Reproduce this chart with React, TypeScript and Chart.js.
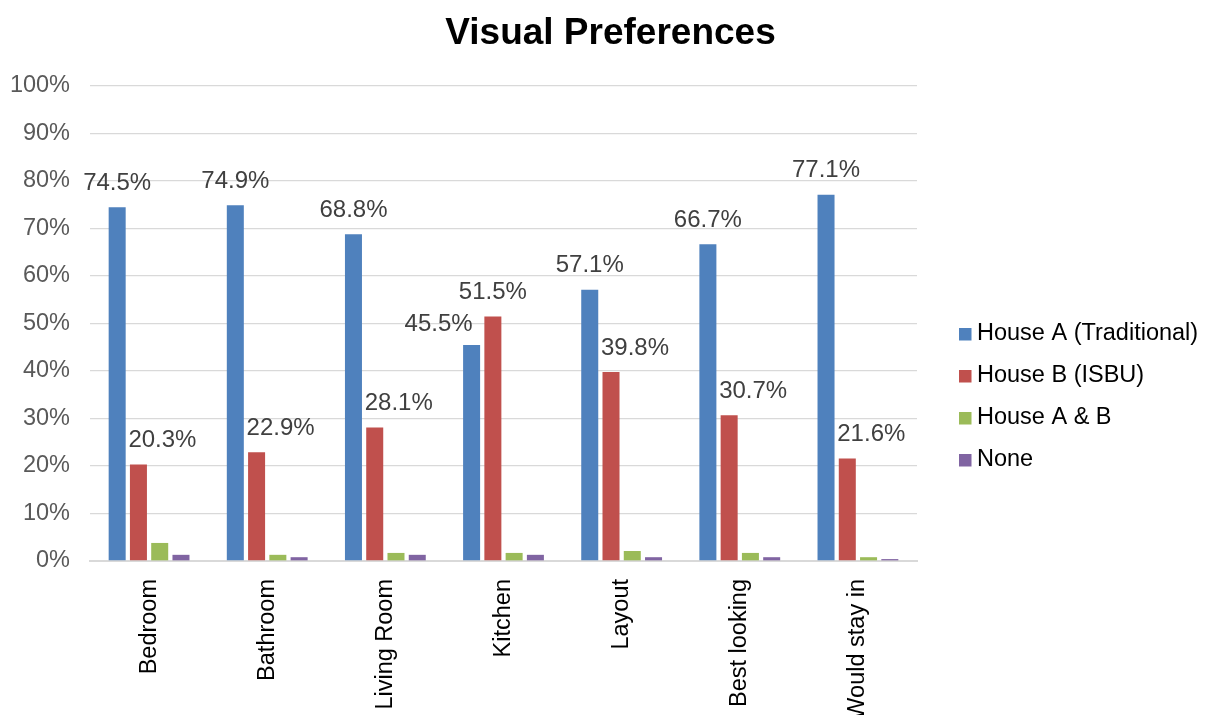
import React, { useEffect, useRef } from "react";
import { Chart, registerables } from "chart.js";

Chart.register(...registerables);

const FONT = '"Liberation Sans", Arial, sans-serif';

const categories = ["Bedroom", "Bathroom", "Living Room", "Kitchen", "Layout", "Best looking", "Would stay in"];
const houseA = [74.5, 74.9, 68.8, 45.5, 57.1, 66.7, 77.1];
const houseB = [20.3, 22.9, 28.1, 51.5, 39.8, 30.7, 21.6];
const houseAB = [3.8, 1.3, 1.7, 1.7, 2.1, 1.7, 0.8];
const noneOfThem = [1.3, 0.8, 1.3, 1.3, 0.8, 0.8, 0.4];
const seriesNames = ["House A (Traditional)", "House B (ISBU)", "House A & B", "None"];
const seriesColors = ["#4F81BD", "#C0504D", "#9BBB59", "#8064A2"];
const labelledSeries = [0, 1];
const yMin = 0;
const yMax = 100;
const yStep = 10;
const titleText = "Visual Preferences";

// label nudges (px) so value labels do not collide, as in the original
function labelNudge(di: number, i: number): [number, number] {
  if (di === 0) return i === 3 ? [-33, 21] : [0, 24];
  return i === 3 ? [0, 24] : [24, 24];
}

const valueLabels = {
  id: "valueLabels",
  afterDatasetsDraw(chart: any) {
    const ctx = chart.ctx;
    ctx.save();
    ctx.font = `24px ${FONT}`;
    ctx.fillStyle = "#404040";
    ctx.textAlign = "center";
    ctx.textBaseline = "middle";
    labelledSeries.forEach((di) => {
      const meta = chart.getDatasetMeta(di);
      meta.data.forEach((bar: any, i: number) => {
        const v = chart.data.datasets[di].data[i] as number;
        const [dx, dy] = labelNudge(di, i);
        ctx.fillText(v.toFixed(1) + "%", bar.x + dx, bar.y - dy);
      });
    });
    ctx.restore();
  },
};

const sideLegend = {
  id: "sideLegend",
  afterDraw(chart: any) {
    const { ctx, chartArea } = chart;
    const x = chartArea.right + 42;
    const firstY = chartArea.top + 248;
    const gap = 42;
    ctx.save();
    ctx.font = `23.5px ${FONT}`;
    ctx.textAlign = "left";
    ctx.textBaseline = "middle";
    chart.data.datasets.forEach((ds: any, i: number) => {
      const y = firstY + i * gap;
      ctx.fillStyle = ds.backgroundColor;
      ctx.fillRect(x, y - 6, 12.5, 12.5);
      ctx.fillStyle = "#000000";
      ctx.fillText(ds.label, x + 18, y);
    });
    ctx.restore();
  },
};

export default function App() {
  const ref = useRef<HTMLCanvasElement>(null);

  useEffect(() => {
    if (!ref.current) return;
    const seriesData = [houseA, houseB, houseAB, noneOfThem];
    const chart = new Chart(ref.current, {
      type: "bar",
      data: {
        labels: categories,
        datasets: seriesData.map((d, i) => ({
          label: seriesNames[i],
          data: d,
          backgroundColor: seriesColors[i],
          borderWidth: 0,
          categoryPercentage: 0.72,
          barPercentage: 0.8,
          yAxisID: "y",
        })),
      },
      options: {
        animation: false,
        responsive: false,
        maintainAspectRatio: false,
        layout: { padding: { left: 10, right: 0, top: 0, bottom: 0 } },
        plugins: {
          legend: { display: false },
          tooltip: { enabled: false },
          title: {
            display: true,
            text: titleText,
            color: "#000000",
            font: { family: FONT, size: 37, weight: "bold", lineHeight: 1.2 },
            padding: { top: 12, bottom: 29.6 },
          },
        },
        scales: {
          x: {
            grid: { display: false },
            border: { display: true, color: "#D9D9D9", width: 2 },
            ticks: {
              color: "#000000",
              font: { family: FONT, size: 23.5 },
              minRotation: 90,
              maxRotation: 90,
              padding: 10,
              autoSkip: false,
            },
            afterFit: (axis: any) => {
              axis.height = 154;
            },
          },
          y: {
            min: yMin,
            max: yMax,
            grid: { color: "#D9D9D9", lineWidth: 1.3, drawTicks: false },
            border: { display: false },
            ticks: {
              stepSize: yStep,
              color: "#595959",
              padding: 20,
              font: { family: FONT, size: 23.5 },
              callback: (v: any) => v + "%",
            },
            afterFit: (axis: any) => {
              axis.width = 80;
            },
          },
          legendSpace: {
            type: "linear",
            position: "right",
            min: yMin,
            max: yMax,
            grid: { display: false, drawOnChartArea: false },
            border: { display: false },
            ticks: { display: false },
            afterFit: (axis: any) => {
              axis.width = 294;
            },
          },
        },
      },
      plugins: [valueLabels, sideLegend],
    });
    return () => chart.destroy();
  }, []);

  return (
    <div style={{ position: "fixed", left: 0, top: 0, width: 1211, height: 715, background: "#fff" }}>
      <canvas ref={ref} width={1211} height={715} style={{ display: "block" }} />
    </div>
  );
}
